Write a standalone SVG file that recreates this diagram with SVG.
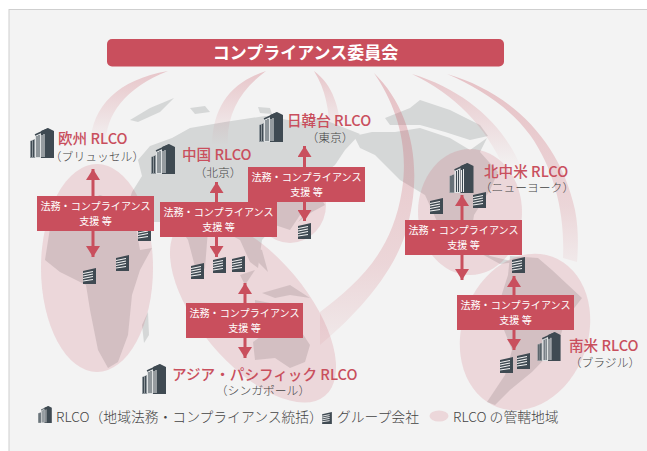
<svg xmlns="http://www.w3.org/2000/svg" width="647" height="451" viewBox="0 0 647 451">
<style>
text{font-family:"Noto Sans CJK JP","Noto Sans",sans-serif}
.land{fill:#d5d7d7}
.reg{fill:#c94f5d;opacity:.17}
.nm{font-size:14.600px;font-weight:500;fill:#c94f5d}
.sub{font-size:11.800px;font-weight:300;fill:#444;text-anchor:middle}
.box{fill:#c94f5d}
.bt{font-size:10.100px;fill:#fff;text-anchor:middle}
.leg{font-size:13.800px;font-weight:300;fill:#444}
.con{stroke:#c94f5d;stroke-width:3;fill:none;marker-start:url(#ah);marker-end:url(#ah)}
</style>
<defs>
<marker id="ah" markerUnits="userSpaceOnUse" markerWidth="12" markerHeight="14" refX="11" refY="7" orient="auto-start-reverse"><path d="M0 0L11 7L0 14Z" fill="#c94f5d"/></marker>
<linearGradient id="fd" x1="0" y1="0" x2="0" y2="1"><stop offset="0" stop-color="#c94f5d" stop-opacity=".28"/><stop offset=".55" stop-color="#c94f5d" stop-opacity=".13"/><stop offset="1" stop-color="#c94f5d" stop-opacity="0"/></linearGradient>
<linearGradient id="fl" x1="0" y1="0" x2="0" y2="1"><stop offset="0" stop-color="#c94f5d" stop-opacity=".3"/><stop offset=".7" stop-color="#c94f5d" stop-opacity=".18"/><stop offset="1" stop-color="#c94f5d" stop-opacity=".06"/></linearGradient>
<symbol id="big" viewBox="0 0 24 30">
<path d="M0 13L5 11V30H0Z" fill="#8f979c"/><path d="M5 7L11 4.500V30H5Z" fill="#dfe2e3"/><path d="M11 3L18 0 24 3V30H11Z" fill="#3f4a52"/>
<path d="M1.500 13V29M3.500 12V29M7 8V29M9 7V29M12.500 6V29M15 5V29" stroke="#3f4a52" stroke-width="1" fill="none"/><path d="M5 7L18 1" stroke="#3f4a52" stroke-width="1.500"/><path d="M12 7V29M14 6V29" stroke="#eee" stroke-width="1"/>
</symbol>
<symbol id="small" viewBox="0 0 13 16">
<path d="M0 3L13 0V16H0Z" fill="#3f4a52"/><path d="M0 5.500L10 3.500M0 8L10 6M0 10.500L10 8.500M0 13L10 11.500" stroke="#f3f3f3" stroke-width="1.200"/>
</symbol>
</defs>
<rect x="9" y="9.500" width="640" height="443" fill="#f3f3f3" stroke="#cfcfcf" stroke-width="1"/>
<g id="map">
<path class="land" d="M132 192L142 176 138 160 150 146 172 138 190 128 225 122 265 116 300 122 320 118 345 128 360 134 345 150 335 165 322 175 312 185 322 200 300 215 290 230 275 225 262 240 258 268 250 262 240 240 225 232 208 230 205 268 198 278 188 240 178 225 160 222 142 222 128 205Z"/>
<path class="land" d="M130 120L150 108 174 98 160 112 138 122ZM190 108L205 106 210 112 195 114ZM258 107L270 108 272 114 260 113Z"/>
<path class="land" d="M354 136L372 132 395 132 420 128 450 138 470 150 487 138 480 152 498 172 490 190 474 215 470 240 490 256 515 262 500 264 478 252 452 246 440 228 425 195 400 180 375 155 360 148Z"/>
<path class="land" d="M385 118L410 108 420 100 450 110 480 125 488 136 470 140 445 132 420 125 390 125Z"/>
<path class="land" d="M45 260L50 228 75 205 100 195 128 205 136 228 140 250 152 248 140 270 132 295 128 335 118 362 108 368 98 350 90 310 86 285 60 272Z"/>
<path class="land" d="M142 325L148 312 149 335 144 343Z"/>
<path class="land" d="M510 256L538 258 552 270 582 298 565 320 558 345 532 372 510 390 495 405 487 402 505 375 512 350 502 325 500 300 508 275Z"/>
<path class="land" d="M253 342L270 330 285 330 295 322 310 345 305 362 290 368 275 358 255 360Z"/>
<path class="land" d="M240 275L255 270 245 285ZM262 293L290 285 310 298 290 295 275 298ZM255 300L285 306 255 305ZM252 247L262 250 268 272 258 262Z"/>
<path class="land" d="M310 180L325 205 312 212 298 222 314 202Z"/>
</g>
<g id="arcs">
<path d="M168 71C118 80 92 105 90 145L106 145C105 115 125 88 168 71Z" fill="url(#fd)"/>
<path d="M266 71C232 82 213 105 212 145L228 145C226 115 240 90 266 71Z" fill="url(#fd)"/>
<path d="M314 71C333 85 340 108 341 135L330 135C329 110 326 90 314 71Z" fill="url(#fd)"/>
<path d="M374 73C412 110 425 170 405 235 390 280 350 320 320 345L320 312C355 285 392 255 402 190 409 145 396 105 374 73Z" fill="url(#fl)"/>
<path d="M412 74C465 90 505 125 522 170L505 170C485 125 455 95 412 74Z" fill="url(#fd)"/>
<path d="M447 74C510 92 560 140 575 210 579 230 578 250 577 262L563 258C565 215 555 170 530 135 510 108 480 88 447 74Z" fill="url(#fl)"/>
</g>
<g id="regions">
<ellipse class="reg" cx="97" cy="268" rx="56" ry="104"/>
<ellipse class="reg" cx="253" cy="310" rx="112" ry="54" transform="rotate(50 253 310)"/>
<ellipse class="reg" cx="290" cy="205" rx="36" ry="38"/>
<ellipse class="reg" cx="470" cy="212" rx="52" ry="63"/>
<ellipse class="reg" cx="525" cy="332" rx="63" ry="80" transform="rotate(20 525 332)"/>
</g>
<g id="title"><rect x="107" y="39" width="397" height="27.500" rx="5" fill="#c94f5d"/><text x="305.500" y="59" font-size="17" font-weight="700" fill="#fff" text-anchor="middle">コンプライアンス委員会</text></g>
<g id="connectors">
<path class="con" d="M93 169V257"/>
<path class="con" d="M216.500 182V257"/>
<path class="con" d="M304.500 146V221"/>
<path class="con" d="M462 195V280"/>
<path class="con" d="M514 276V350"/>
<path class="con" d="M245 283V358"/>
</g>
<g id="companies">
<use href="#small" x="138" y="225" width="13" height="16"/>
<use href="#small" x="116" y="255" width="13" height="16"/>
<use href="#small" x="83" y="268" width="13" height="16"/>
<use href="#small" x="191" y="263" width="13" height="16"/>
<use href="#small" x="213" y="257" width="13" height="16"/>
<use href="#small" x="232" y="256" width="13" height="16"/>
<use href="#small" x="298" y="223" width="13" height="16"/>
<use href="#small" x="430" y="198" width="13" height="16"/>
<use href="#small" x="473" y="192" width="13" height="16"/>
<use href="#small" x="512" y="257" width="13" height="16"/>
<use href="#small" x="500" y="357" width="13" height="16"/>
<use href="#small" x="517" y="353" width="13" height="16"/>
</g>
<g id="box-eu"><rect class="box" x="37" y="196" width="117" height="35"/><text class="bt" x="95.500" y="210">法務・コンプライアンス</text><text class="bt" x="95.500" y="225">支援 等</text></g>
<g id="box-cn"><rect class="box" x="160" y="202" width="117" height="35"/><text class="bt" x="218.500" y="216">法務・コンプライアンス</text><text class="bt" x="218.500" y="231">支援 等</text></g>
<g id="box-jp"><rect class="box" x="248" y="167" width="117" height="35"/><text class="bt" x="306.500" y="181">法務・コンプライアンス</text><text class="bt" x="306.500" y="196">支援 等</text></g>
<g id="box-na"><rect class="box" x="405" y="220" width="117" height="35"/><text class="bt" x="463.500" y="234">法務・コンプライアンス</text><text class="bt" x="463.500" y="249">支援 等</text></g>
<g id="box-sa"><rect class="box" x="457" y="295" width="117" height="35"/><text class="bt" x="515.500" y="309">法務・コンプライアンス</text><text class="bt" x="515.500" y="324">支援 等</text></g>
<g id="box-ap"><rect class="box" x="186" y="303" width="117" height="35"/><text class="bt" x="244.500" y="317">法務・コンプライアンス</text><text class="bt" x="244.500" y="332">支援 等</text></g>
<g id="eu"><use href="#big" x="30" y="128" width="24" height="30"/><text class="nm" x="58" y="144">欧州 RLCO</text><text class="sub" x="97" y="161">（ブリュッセル）</text></g>
<g id="cn"><use href="#big" x="151" y="144" width="24" height="30"/><text class="nm" x="182" y="160">中国 RLCO</text><text class="sub" x="218" y="177">（北京）</text></g>
<g id="jp"><use href="#big" x="259" y="112" width="24" height="30"/><text class="nm" x="287" y="126">日韓台 RLCO</text><text class="sub" x="330" y="142">（東京）</text></g>
<g id="na"><use href="#big" x="449" y="163" width="25" height="30"/><text class="nm" x="484" y="177">北中米 RLCO</text><text class="sub" x="527" y="192">（ニューヨーク）</text></g>
<g id="sa"><use href="#big" x="537" y="332" width="24" height="29"/><text class="nm" x="569" y="351">南米 RLCO</text><text class="sub" x="605" y="367">（ブラジル）</text></g>
<g id="ap"><use href="#big" x="142" y="364" width="24" height="30"/><text class="nm" x="172" y="380">アジア・パシフィック RLCO</text><text class="sub" x="263" y="395">（シンガポール）</text></g>
<g id="legend">
<use href="#big" x="38" y="406" width="14" height="17"/><text class="leg" x="56" y="422">RLCO（地域法務・コンプライアンス統括）</text>
<use href="#small" x="322" y="412" width="10" height="12"/><text class="leg" x="337" y="422">グループ会社</text>
<ellipse class="reg" cx="439" cy="416" rx="9.500" ry="5.500"/><text class="leg" x="453" y="422">RLCO の管轄地域</text>
</g>
</svg>
